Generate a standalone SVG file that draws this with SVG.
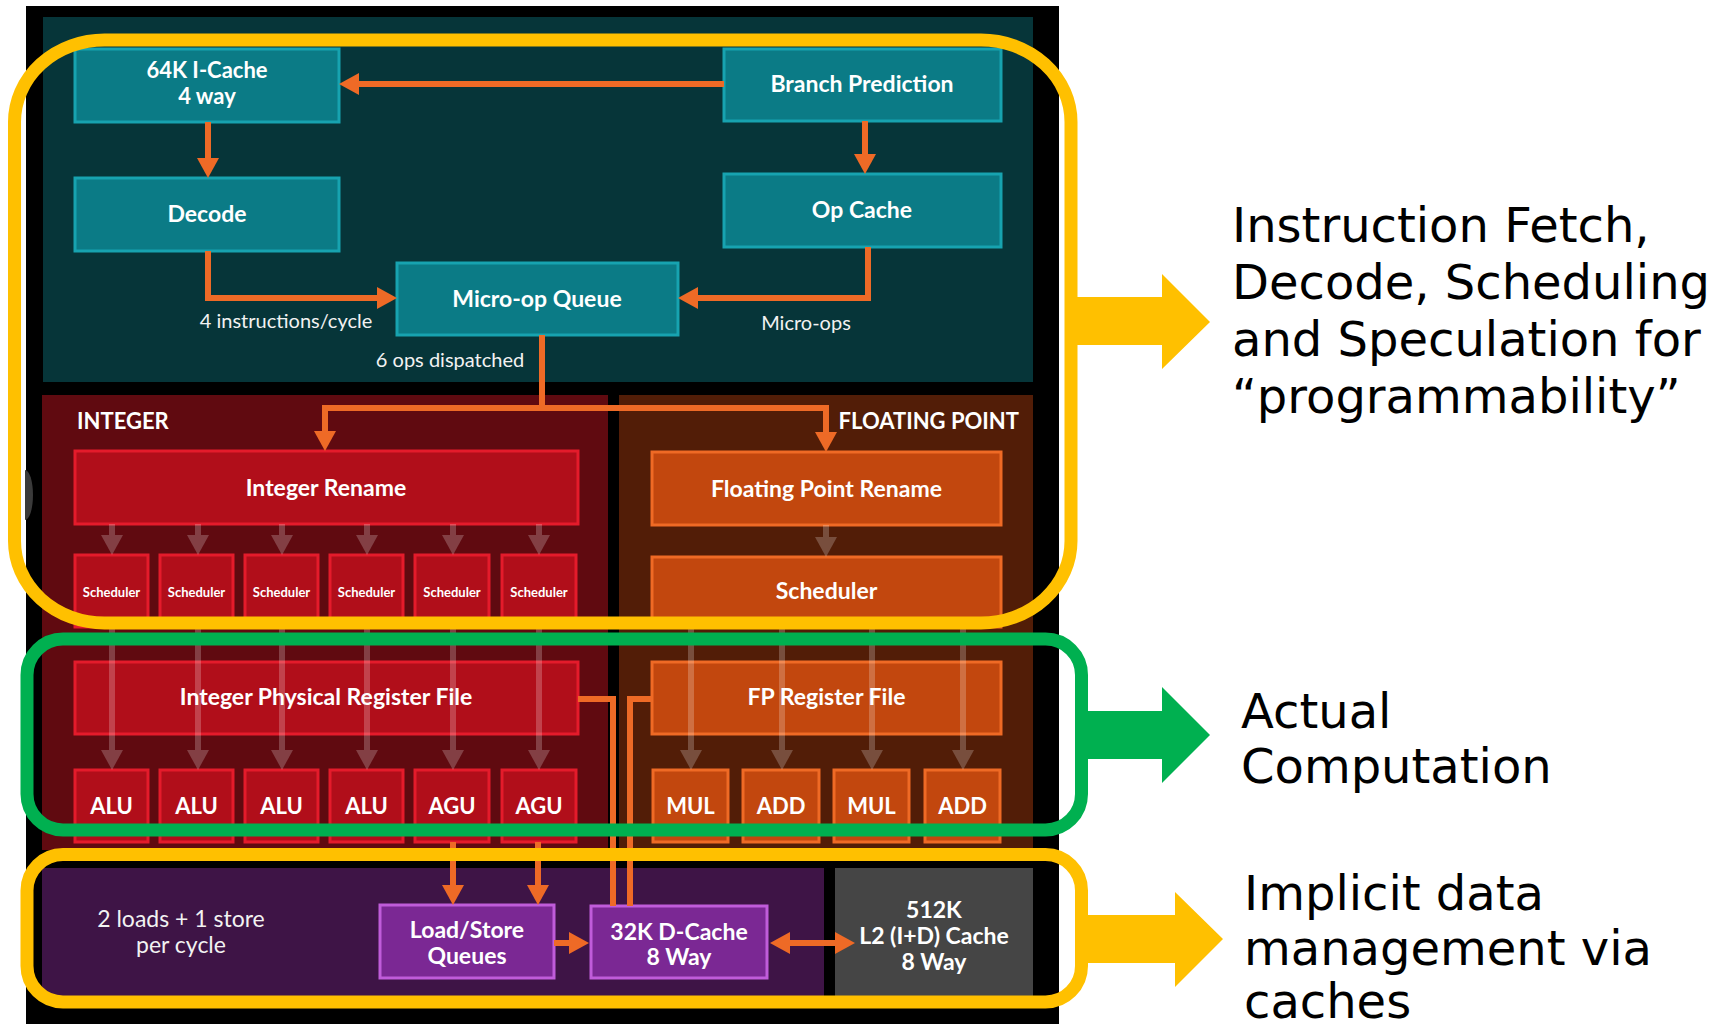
<svg xmlns="http://www.w3.org/2000/svg" width="1722" height="1027" viewBox="0 0 1722 1027">
  <style>
    .lbl { font-family: Lato, "Liberation Sans", sans-serif; font-weight: 700; fill: #ffffff; text-anchor: middle; }
    .big { font-size: 23px; }
    .unit { font-size: 22px; }
    .mid { font-size: 23px; }
    .small { font-size: 13px; }
    .note { font-family: Lato, "Liberation Sans", sans-serif; font-size: 20px; fill: #f2f2f2; text-anchor: middle; }
    .teal { fill: #0b7b86; stroke: #17a3b0; stroke-width: 3; }
    .red { fill: #b10e1a; stroke: #e41b2b; stroke-width: 3; }
    .fp { fill: #c2470e; stroke: #ef6a25; stroke-width: 3; }
    .mem { fill: #7b2894; stroke: #c05cda; stroke-width: 3; }
    .wire { fill: none; stroke: #ee6a26; stroke-width: 6; }
    .ghost { fill: none; stroke: #ffffff; stroke-opacity: 0.22; stroke-width: 6; }
    .frame { fill: none; stroke-width: 13; }
    .side { font-family: "DejaVu Sans", Verdana, sans-serif; font-size: 48px; fill: #000000; }
  </style>
  <defs>
    <marker id="head" markerUnits="userSpaceOnUse" markerWidth="21" markerHeight="22" viewBox="0 0 21 22" refX="2" refY="11" orient="auto-start-reverse">
      <path d="M0,0 L20,11 L0,22 z" fill="#ee6a26"/>
    </marker>
    <marker id="ghosthead" markerUnits="userSpaceOnUse" markerWidth="21" markerHeight="22" viewBox="0 0 21 22" refX="0" refY="11" orient="auto">
      <path d="M0,0 L20,11 L0,22 z" fill="#ffffff" fill-opacity="0.22"/>
    </marker>
  </defs>

  <rect width="1722" height="1027" fill="#ffffff"/>

  <!-- chip backdrop and section panels -->
  <rect x="26" y="6" width="1033" height="1018" fill="#000000"/>
  <path d="M25,470 A8,25 0 0 1 25,520 Z" fill="#3a3a3a"/>
  <rect x="43" y="17" width="990" height="365" fill="#063539"/>
  <rect x="42" y="395" width="566" height="455" fill="#600a10"/>
  <rect x="619" y="395" width="414" height="455" fill="#521d07"/>
  <rect x="42" y="868" width="782" height="128" fill="#3e1446"/>

  <text x="77" y="429" class="lbl" style="font-size:22px;text-anchor:start">INTEGER</text>
  <text x="1019" y="429" class="lbl" style="font-size:22px;text-anchor:end">FLOATING POINT</text>

  <!-- front end -->
  <g id="icache">
    <rect x="75" y="49" width="264" height="73" class="teal"/>
    <text x="207" y="78" class="lbl unit">64K I-Cache</text>
    <text x="207" y="104" class="lbl unit">4 way</text>
  </g>
  <g id="decode">
    <rect x="75" y="178" width="264" height="73" class="teal"/>
    <text x="207" y="222" class="lbl big">Decode</text>
  </g>
  <g id="branch-prediction">
    <rect x="724" y="49" width="277" height="72" class="teal"/>
    <text x="862" y="92" class="lbl big">Branch Prediction</text>
  </g>
  <g id="op-cache">
    <rect x="724" y="174" width="277" height="73" class="teal"/>
    <text x="862" y="218" class="lbl big">Op Cache</text>
  </g>
  <g id="micro-op-queue">
    <rect x="397" y="263" width="281" height="72" class="teal"/>
    <text x="537" y="307" class="lbl big">Micro-op Queue</text>
  </g>

  <!-- integer cluster -->
  <g id="integer-rename">
    <rect x="75" y="451" width="503" height="73" class="red"/>
    <text x="326" y="496" class="lbl big">Integer Rename</text>
  </g>
  <g id="int-sched-0"><rect x="75" y="555" width="73" height="72" class="red"/><text x="111.5" y="597" class="lbl small">Scheduler</text></g>
  <g id="int-sched-1"><rect x="160" y="555" width="73" height="72" class="red"/><text x="196.5" y="597" class="lbl small">Scheduler</text></g>
  <g id="int-sched-2"><rect x="245" y="555" width="73" height="72" class="red"/><text x="281.5" y="597" class="lbl small">Scheduler</text></g>
  <g id="int-sched-3"><rect x="330" y="555" width="73" height="72" class="red"/><text x="366.5" y="597" class="lbl small">Scheduler</text></g>
  <g id="int-sched-4"><rect x="415" y="555" width="74" height="72" class="red"/><text x="452" y="597" class="lbl small">Scheduler</text></g>
  <g id="int-sched-5"><rect x="502" y="555" width="74" height="72" class="red"/><text x="539" y="597" class="lbl small">Scheduler</text></g>
  <g id="integer-register-file">
    <rect x="75" y="662" width="503" height="72" class="red"/>
    <text x="326" y="705" class="lbl big">Integer Physical Register File</text>
  </g>
  <g id="alu-0"><rect x="75" y="770" width="73" height="72" class="red"/><text x="111.5" y="814" class="lbl unit">ALU</text></g>
  <g id="alu-1"><rect x="160" y="770" width="73" height="72" class="red"/><text x="196.5" y="814" class="lbl unit">ALU</text></g>
  <g id="alu-2"><rect x="245" y="770" width="73" height="72" class="red"/><text x="281.5" y="814" class="lbl unit">ALU</text></g>
  <g id="alu-3"><rect x="330" y="770" width="73" height="72" class="red"/><text x="366.5" y="814" class="lbl unit">ALU</text></g>
  <g id="agu-0"><rect x="415" y="770" width="74" height="72" class="red"/><text x="452" y="814" class="lbl unit">AGU</text></g>
  <g id="agu-1"><rect x="502" y="770" width="74" height="72" class="red"/><text x="539" y="814" class="lbl unit">AGU</text></g>

  <!-- floating point cluster -->
  <g id="fp-rename">
    <rect x="652" y="452" width="349" height="73" class="fp"/>
    <text x="826.5" y="497" class="lbl big">Floating Point Rename</text>
  </g>
  <g id="fp-scheduler">
    <rect x="652" y="557" width="349" height="70" class="fp"/>
    <text x="826.5" y="599" class="lbl big">Scheduler</text>
  </g>
  <g id="fp-register-file">
    <rect x="652" y="662" width="349" height="72" class="fp"/>
    <text x="826.5" y="705" class="lbl big">FP Register File</text>
  </g>
  <g id="fp-mul-0"><rect x="653" y="770" width="75" height="72" class="fp"/><text x="690.5" y="814" class="lbl unit">MUL</text></g>
  <g id="fp-add-0"><rect x="743" y="770" width="76" height="72" class="fp"/><text x="781" y="814" class="lbl unit">ADD</text></g>
  <g id="fp-mul-1"><rect x="834" y="770" width="75" height="72" class="fp"/><text x="871.5" y="814" class="lbl unit">MUL</text></g>
  <g id="fp-add-1"><rect x="925" y="770" width="75" height="72" class="fp"/><text x="962.5" y="814" class="lbl unit">ADD</text></g>

  <!-- memory subsystem -->
  <text x="181" y="927" class="note" style="font-size:23px">2 loads + 1 store</text>
  <text x="181" y="953" class="note" style="font-size:23px">per cycle</text>
  <g id="load-store-queues">
    <rect x="380" y="905" width="174" height="73" class="mem"/>
    <text x="467" y="938" class="lbl mid">Load/Store</text>
    <text x="467" y="964" class="lbl mid">Queues</text>
  </g>
  <g id="d-cache">
    <rect x="591" y="906" width="176" height="72" class="mem"/>
    <text x="679" y="940" class="lbl mid">32K D-Cache</text>
    <text x="679" y="965" class="lbl mid">8 Way</text>
  </g>
  <g id="l2-cache">
    <rect x="835" y="868" width="198" height="128" fill="#454545"/>
    <text x="934" y="918" class="lbl mid">512K</text>
    <text x="934" y="944" class="lbl mid">L2 (I+D) Cache</text>
    <text x="934" y="970" class="lbl mid">8 Way</text>
  </g>

  <!-- connectors -->
  <g id="connectors">
    <path class="wire" d="M724 84 H357" marker-end="url(#head)"/>
    <path class="wire" d="M208 122 V160" marker-end="url(#head)"/>
    <path class="wire" d="M865 121 V156" marker-end="url(#head)"/>
    <path class="wire" d="M208 251 V298 H379" marker-end="url(#head)"/>
    <path class="wire" d="M868 247 V298 H696" marker-end="url(#head)"/>
    <path class="wire" d="M542 335 V408"/>
    <path class="wire" d="M325 433 V408 H826 V434" marker-start="url(#head)" marker-end="url(#head)"/>
    <path class="wire" d="M578 699 H613 V906"/>
    <path class="wire" d="M652 699 H630 V906"/>
    <path class="wire" d="M453 842 V887" marker-end="url(#head)"/>
    <path class="wire" d="M538 842 V887" marker-end="url(#head)"/>
    <path class="wire" d="M554 943 H571" marker-end="url(#head)"/>
    <path class="wire" d="M788 943 H837" marker-start="url(#head)" marker-end="url(#head)"/>

    <!-- rename to schedulers -->
    <path class="ghost" d="M112 524 V535" marker-end="url(#ghosthead)"/>
    <path class="ghost" d="M198 524 V535" marker-end="url(#ghosthead)"/>
    <path class="ghost" d="M282 524 V535" marker-end="url(#ghosthead)"/>
    <path class="ghost" d="M367 524 V535" marker-end="url(#ghosthead)"/>
    <path class="ghost" d="M453 524 V535" marker-end="url(#ghosthead)"/>
    <path class="ghost" d="M539 524 V535" marker-end="url(#ghosthead)"/>
    <path class="ghost" d="M826 525 V537" marker-end="url(#ghosthead)"/>
    <!-- schedulers to execution units -->
    <path class="ghost" d="M112 627 V750" marker-end="url(#ghosthead)"/>
    <path class="ghost" d="M198 627 V750" marker-end="url(#ghosthead)"/>
    <path class="ghost" d="M282 627 V750" marker-end="url(#ghosthead)"/>
    <path class="ghost" d="M367 627 V750" marker-end="url(#ghosthead)"/>
    <path class="ghost" d="M453 627 V750" marker-end="url(#ghosthead)"/>
    <path class="ghost" d="M539 627 V750" marker-end="url(#ghosthead)"/>
    <path class="ghost" d="M691 627 V750" marker-end="url(#ghosthead)"/>
    <path class="ghost" d="M782 627 V750" marker-end="url(#ghosthead)"/>
    <path class="ghost" d="M872 627 V750" marker-end="url(#ghosthead)"/>
    <path class="ghost" d="M963 627 V750" marker-end="url(#ghosthead)"/>
  </g>

  <!-- edge labels -->
  <text x="286" y="328" class="note">4 instructions/cycle</text>
  <text x="450" y="367" class="note">6 ops dispatched</text>
  <text x="806" y="330" class="note">Micro-ops</text>

  <!-- highlight frames -->
  <rect x="14.5" y="40" width="1056.5" height="583" rx="90" ry="82" class="frame" stroke="#ffc000"/>
  <rect x="27" y="639" width="1054.5" height="191" rx="36" ry="36" class="frame" stroke="#00b050"/>
  <rect x="27" y="854.5" width="1054.5" height="147.5" rx="36" ry="36" class="frame" stroke="#ffc000"/>

  <!-- callout arrows -->
  <polygon points="1071,297 1162,297 1162,274 1210,322 1162,369 1162,345 1071,345" fill="#ffc000"/>
  <polygon points="1081,711 1162,711 1162,687 1210,735 1162,783 1162,759 1081,759" fill="#00b050"/>
  <polygon points="1081,915 1175,915 1175,892 1223,939 1175,987 1175,963 1081,963" fill="#ffc000"/>

  <!-- callout texts -->
  <text class="side" x="1232" y="242">Instruction Fetch,</text>
  <text class="side" x="1232" y="299">Decode, Scheduling</text>
  <text class="side" x="1232" y="356">and Speculation for</text>
  <text class="side" x="1232" y="413">“programmability”</text>

  <text class="side" x="1241" y="728">Actual</text>
  <text class="side" x="1241" y="783">Computation</text>

  <text class="side" x="1244" y="910">Implicit data</text>
  <text class="side" x="1244" y="965">management via</text>
  <text class="side" x="1244" y="1018">caches</text>
</svg>
